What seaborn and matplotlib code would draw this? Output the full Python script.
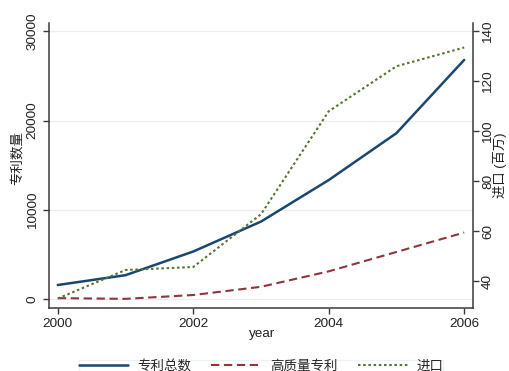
import matplotlib
matplotlib.use("Agg")
import matplotlib.pyplot as plt
import seaborn as sns
import pandas as pd

# Data
years = [2000, 2001, 2002, 2003, 2004, 2005, 2006]
patents_total = [1600, 2700, 5350, 8700, 13350, 18600, 26800]
patents_high = [130, 50, 480, 1400, 3130, 5300, 7470]
imports = [33.1, 44.5, 45.7, 66.8, 108.0, 126.0, 133.5]

x_ticks = [2000, 2002, 2004, 2006]
left_ticks = [0, 10000, 20000, 30000]
right_ticks = [40, 60, 80, 100, 120, 140]

label_total = "专利总数"
label_high = "高质量专利"
label_imports = "进口"

df = pd.DataFrame({"year": years, "total": patents_total,
                   "high": patents_high, "imports": imports})

sns.set_style("white")
plt.rcParams["font.family"] = ["Liberation Sans", "Noto Sans CJK SC", "DejaVu Sans"]

navy = "#1a476f"
maroon = "#90353b"
forest = "#55752f"
axis_col = "#3a3a3a"
grid_col = "#e9eff1"

fig = plt.figure(figsize=(5.09, 3.71), dpi=100)
ax = fig.add_axes([49 / 509, 1 - 308 / 371, (473 - 49) / 509, (308 - 23) / 371])
ax2 = ax.twinx()

sns.lineplot(data=df, x="year", y="total", ax=ax, color=navy, lw=1.8,
             label=label_total, legend=False)
sns.lineplot(data=df, x="year", y="high", ax=ax, color=maroon, lw=1.5,
             linestyle=(0, (4, 2.2)), label=label_high, legend=False)
sns.lineplot(data=df, x="year", y="imports", ax=ax2, color=forest, lw=1.5,
             linestyle=(0, (1.2, 1.3)), label=label_imports, legend=False)

ax.set_xlim(1999.87, 2006.13)
ax.set_ylim(-974, 30930)
ax2.set_ylim(29.3, 143.3)

ax.set_xticks(x_ticks)
ax.set_yticks(left_ticks)
ax2.set_yticks(right_ticks)

ax.yaxis.grid(True, color=grid_col, lw=0.9)
ax.set_axisbelow(True)

for a in (ax, ax2):
    for s in a.spines.values():
        s.set_color(axis_col)
        s.set_linewidth(1.1)
    a.spines["top"].set_visible(False)
ax.spines["right"].set_visible(False)
ax2.spines["left"].set_visible(False)
ax2.spines["bottom"].set_visible(False)

tick_kw = dict(direction="out", length=4.5, width=1.0, color=axis_col,
               labelsize=9.7, labelcolor="#222222")
ax.tick_params(axis="x", pad=3, bottom=True, **tick_kw)
ax.tick_params(axis="y", pad=3, left=True, **tick_kw)
ax2.tick_params(axis="y", pad=2, right=True, **tick_kw)
for t in ax.get_yticklabels():
    t.set_rotation(90)
    t.set_va("center")
for t in ax2.get_yticklabels():
    t.set_rotation(90)
    t.set_va("center")

ax.set_xlabel("")
ax.set_ylabel("")
ax2.set_ylabel("")
fig.text(262 / 509, 1 - 334 / 371, "year", ha="center", va="center",
         fontsize=9.7, color="#222222")
fig.text(17 / 509, 1 - 158 / 371, "专利数量", rotation=90, ha="center",
         va="center", fontsize=9.7, color="#222222")
fig.text(500 / 509, 1 - 165 / 371, "进口 (百万)", rotation=90, ha="center",
         va="center", fontsize=9.5, color="#222222")

handles = ax.get_lines()[:2] + ax2.get_lines()[:1]
leg = fig.legend(handles, [label_total, label_high, label_imports],
                 loc="upper center", bbox_to_anchor=(261 / 509, 1 - 360 / 371),
                 ncol=3, frameon=True, fancybox=False, fontsize=9.7,
                 handlelength=3.7, handletextpad=0.65, columnspacing=1.5,
                 borderpad=0.0, borderaxespad=0)
leg.get_frame().set_edgecolor(grid_col)
leg.get_frame().set_linewidth(1.0)

fig.savefig("out.png", dpi=100, facecolor="white")
